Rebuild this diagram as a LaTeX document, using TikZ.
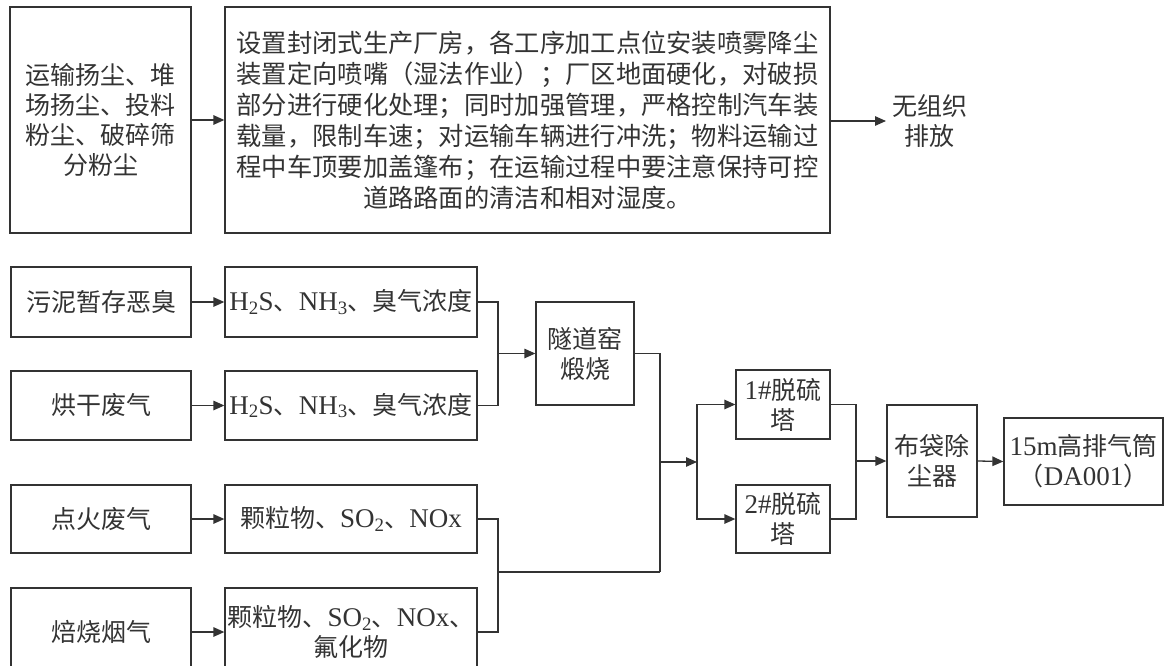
\documentclass[tikz,border=0pt]{standalone}
\usepackage{fontspec}
\setmainfont[Scale=1.08]{Liberation Serif}
\newfontfamily\cjk{Noto Sans CJK SC}
\usetikzlibrary{arrows.meta}
\newcommand{\lat}[1]{{\rmfamily #1}}
\definecolor{ink}{HTML}{333333}
\begin{document}
\begin{tikzpicture}[x=1pt,y=-1pt,
  box/.style={draw=ink,line width=1.3pt,inner sep=0pt,align=center,text=ink,
    font=\cjk\fontsize{25}{30}\selectfont},
  lbl/.style={inner sep=0pt,align=center,text=ink,font=\cjk\fontsize{25}{30}\selectfont},
  conn/.style={draw=ink,line width=1.3pt},
  arr/.style={conn,-{Triangle[length=11pt,width=9.5pt]}}]
\useasboundingbox (0,0) rectangle (1164,666);
% top row
\node[box,minimum width=181,minimum height=226] (A) at (100.5,120)
  {运输扬尘、堆\\场扬尘、投料\\粉尘、破碎筛\\分粉尘};
\node[box,minimum width=605,minimum height=226,font=\cjk\fontsize{25.3}{31}\selectfont] (B) at (527.5,120)
  {设置封闭式生产厂房，各工序加工点位安装喷雾降尘\\
   装置定向喷嘴（湿法作业）；厂区地面硬化，对破损\\
   部分进行硬化处理；同时加强管理，严格控制汽车装\\
   载量，限制车速；对运输车辆进行冲洗；物料运输过\\
   程中车顶要加盖篷布；在运输过程中要注意保持可控\\
   道路路面的清洁和相对湿度。};
\node[lbl,anchor=west] (E) at (892,121) {无组织\\排放};
% left column
\node[box,minimum width=180,minimum height=70] (r1a) at (101,302) {污泥暂存恶臭};
\node[box,minimum width=252,minimum height=70] (r1b) at (351,302)
  {\lat{H\textsubscript{2}S}、\lat{NH\textsubscript{3}}、臭气浓度};
\node[box,minimum width=180,minimum height=69] (r2a) at (101,405.5) {烘干废气};
\node[box,minimum width=252,minimum height=69] (r2b) at (351,405.5)
  {\lat{H\textsubscript{2}S}、\lat{NH\textsubscript{3}}、臭气浓度};
\node[box,minimum width=180,minimum height=68] (r3a) at (101,519) {点火废气};
\node[box,minimum width=252,minimum height=68] (r3b) at (351,519)
  {颗粒物、\lat{SO\textsubscript{2}}、\lat{NOx}};
\node[box,minimum width=180,minimum height=88] (r4a) at (101,632) {焙烧烟气};
\node[box,minimum width=252,minimum height=88] (r4b) at (351,632)
  {颗粒物、\lat{SO\textsubscript{2}}、\lat{NOx}、\\氟化物};
% middle / right
\node[box,minimum width=98,minimum height=103] (kiln) at (585,353.5) {隧道窑\\煅烧};
\node[box,minimum width=94,minimum height=69] (d1) at (783,404.5) {\lat{1\#}脱硫\\塔};
\node[box,minimum width=94,minimum height=68] (d2) at (783,519) {\lat{2\#}脱硫\\塔};
\node[box,minimum width=90,minimum height=112] (bag) at (932,461) {布袋除\\尘器};
\node[box,minimum width=159,minimum height=87] (stack) at (1083.5,461.5) {\lat{15m}高排气筒\\（\lat{DA001}）};
% junctions
\coordinate (j1) at (498,353.5);
\coordinate (j2) at (498,572);
\coordinate (j3) at (660,572);
\coordinate (j3a) at (660,462);
\coordinate (j4) at (697,462);
\coordinate (j5) at (856,461);
% connectors
\draw[arr] (A) -- (B);
\draw[arr] (B.east |- E.west) -- ([xshift=-6pt]E.west);
\draw[arr] (r1a) -- (r1b);
\draw[arr] (r2a) -- (r2b);
\draw[arr] (r3a) -- (r3b);
\draw[arr] (r4a) -- (r4b);
\draw[conn] (r1b.east) -| (j1);
\draw[conn] (r2b.east) -| (j1);
\draw[arr] (j1) -- (kiln.west);
\draw[conn] (r3b.east) -| (j2);
\draw[conn] (r4b.east) -| (j2);
\draw[conn] (j2) -- (j3);
\draw[conn] (kiln.east) -| (j3);
\draw[arr] (j3a) -- (j4);
\draw[arr] (j4) |- (d1.west);
\draw[arr] (j4) |- (d2.west);
\draw[conn] (d1.east) -| (j5);
\draw[conn] (d2.east) -| (j5);
\draw[arr] (j5) -- (bag.west);
\draw[arr] (bag.east) -- (stack.west);
\end{tikzpicture}
\end{document}
